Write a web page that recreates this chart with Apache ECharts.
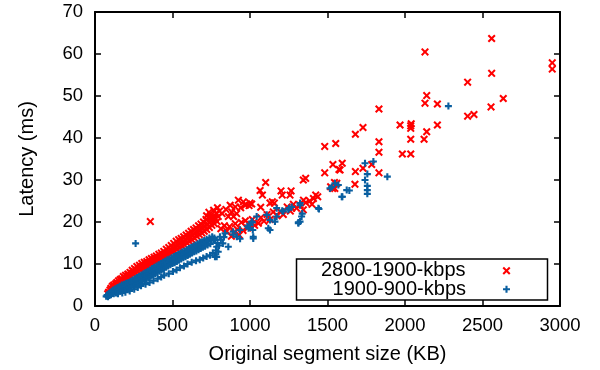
<!DOCTYPE html>
<html>
<head>
<meta charset="utf-8">
<script src="https://cdn.jsdelivr.net/npm/echarts@6/dist/echarts.min.js"></script>
<style>
html,body{margin:0;padding:0;background:#fff;}
#chart{width:600px;height:370px;}
</style>
</head>
<body>
<div id="chart"></div>
<script>
// ---- Data ----
var xTicks = [0, 500, 1000, 1500, 2000, 2500, 3000];
var yTicks = [0, 10, 20, 30, 40, 50, 60, 70];
var seriesNames = ['2800-1900-kbps', '1900-900-kbps'];

// 2800-1900-kbps : [segment size (KB), latency (ms)]
var redDense = [
[82,2.9],[88,3.3],[95,3.1],[97,3.8],[103,4.2],[108,3.6],[112,4.7],[118,4.1],[121,5.0],[127,4.5],[133,5.3],[138,4.8],[141,5.6],[147,5.1],[152,6.0],[158,5.4],[163,6.3],[166,5.7],[172,6.5],[177,6.0],[183,7.0],[186,6.2],[192,6.7],[197,7.3],[201,6.5],[206,7.1],[212,7.6],[215,6.9],[221,7.4],[226,8.0],[231,7.2],[236,7.8],[240,8.5],[246,7.6],[250,8.2],[255,8.9],[261,8.0],[266,8.6],[270,9.4],[276,8.3],[281,9.0],[287,9.7],[292,8.7],[297,9.3],[302,10.1],[308,9.0],[313,9.6],[318,10.4],[323,9.2],[328,9.9],[334,10.6],[339,9.5],[345,10.2],[349,11.0],[354,9.9],[359,10.5],[364,11.3],[370,10.2],[375,10.9],[381,11.6],[386,10.5],[392,11.2],[396,11.9],[402,10.8],[407,11.5],[412,12.3],[418,11.1],[423,11.8],[428,12.6],[433,11.4],[439,12.2],[444,13.0],[449,11.7],[455,12.5],[460,13.5],[465,12.0],[471,12.9],[476,13.9],[481,12.4],[487,13.3],[492,14.4],[497,12.8],[503,13.7],[508,14.9],[513,13.1],[519,14.1],[524,15.4],[529,13.5],[535,14.5],[540,15.8],[545,13.9],[551,14.9],[556,16.1],[561,14.3],[567,15.3],[572,16.5],[577,14.6],[583,15.7],[588,16.9],[593,15.0],[599,16.1],[604,17.3],[609,15.4],[615,16.5],[620,17.8],[625,15.8],[631,16.9],[636,18.2],[641,16.2],[647,17.3],[652,18.6],[657,16.6],[663,17.7],[668,19.1],[673,17.0],[679,18.1],[684,19.5],[689,17.4],[695,18.6],[700,20.0],[705,17.8],[711,19.0],[716,20.6],[721,18.2],[727,19.5],[732,21.1],[738,18.7],[743,20.0],[748,21.6],[754,19.2],[759,20.5],[764,21.0],[770,19.6],[776,20.9],[782,22.1],[788,20.1],[795,21.3],[803,22.6],
[720,21.5],[735,22.3],[748,21.0],[765,22.8],[775,20.7],[790,23.4],[820,22.0],[845,23.0],[860,21.3],[872,24.0],[882,22.4],[894,21.3],[905,23.6],[914,22.0],[925,25.2],[940,23.4],[957,24.8],[970,24.0],[994,23.9],[1000,24.5],[1011,24.3],
[812,18.4],[835,19.1],[850,17.8],[868,18.9],[880,16.6],[896,17.5],[905,19.6],[918,18.2],[930,16.9],[944,19.9],[955,18.0],[970,20.3],[985,18.6],[1000,19.4],[1015,20.6],[1030,19.2],[1054,19.7],[1070,21.0],[1090,20.2],[1110,21.8],[1130,20.6],[1150,22.4],[1175,21.5],[1194,22.5],[1215,21.8],[1240,23.6],[1260,22.6],[1280,24.2],[1300,23.3],[1323,24.0],[1345,25.2],[1360,24.6],[1385,25.0],[1400,24.2]
];
var redSparse = [
[357,20.1],[1065,27.5],[1080,26.4],[1101,29.4],[1069,23.5],[1129,24.5],[1144,24.8],[1157,24.5],[1200,27.4],[1208,26.4],[1258,26.4],[1265,27.4],[1269,23.3],[1344,22.9],[1344,30.0],[1359,30.4],[1409,25.6],[1424,26.4],[1437,26.0],[1482,31.7],[1482,38.0],[1535,33.7],[1553,38.7],[1574,32.5],[1595,34.0],[1545,29.4],[1560,29.2],[1520,28.4],[1533,28.0],[1547,28.0],[1581,32.4],[1677,29.0],[1680,32.0],[1680,40.9],[1729,32.8],[1729,42.5],[1785,33.7],[1832,31.7],[1832,36.6],[1832,39.1],[1832,46.9],[1968,43.1],[1983,36.2],[2037,36.2],[2037,39.7],[2037,42.3],[2037,42.9],[2040,43.4],[2123,39.7],[2140,41.5],[2209,43.1],[2129,48.3],[2140,50.1],[2209,48.1],[2129,60.5],[2404,53.3],[2404,45.2],[2445,45.6],[2555,47.4],[2559,55.4],[2559,63.7],[2634,49.4],[2950,57.9],[2950,56.4]
];

// 1900-900-kbps : [segment size (KB), latency (ms)]
var blueDense = [
[72,2.3],[78,2.6],[84,2.2],[88,2.9],[93,2.5],[98,3.2],[103,2.7],[107,3.5],[112,3.0],[117,3.8],[121,2.9],[126,3.4],[131,4.1],[135,3.1],[140,3.7],[145,4.4],[149,3.3],[154,4.0],[159,4.7],[163,3.5],[168,4.3],[173,5.0],[177,3.7],[182,4.5],[187,5.2],[191,3.9],[196,4.7],[201,5.4],[205,4.1],[210,5.0],[215,5.6],[219,4.3],[224,5.2],[229,5.9],[233,4.5],[238,5.5],[243,6.2],[248,4.8],[252,5.7],[257,6.5],[262,5.0],[266,6.0],[271,6.8],[276,5.3],[280,6.3],[285,7.1],[290,5.6],[294,6.6],[299,7.4],[304,5.9],[309,6.9],[313,7.7],[318,6.2],[323,7.2],[327,8.0],[332,6.5],[337,7.5],[341,8.3],[346,6.8],[351,7.8],[355,8.6],[360,7.1],[365,8.1],[369,8.9],[374,7.4],[379,8.4],[383,9.2],[388,7.7],[393,8.7],[397,9.5],[402,8.0],[407,9.0],[411,9.8],[416,8.3],[421,9.3],[425,10.1],[430,8.6],[435,9.6],[439,10.4],[444,8.9],[449,9.9],[453,10.7],[458,9.2],[463,10.2],[467,11.0],[472,9.5],[477,10.5],[481,11.2],[486,9.8],[491,10.8],[495,11.5],[500,10.1],[505,11.1],[509,11.8],[514,10.3],[519,11.3],[523,12.0],[528,10.6],[533,11.6],[537,12.3],[542,10.9],[547,11.9],[551,12.6],[556,11.2],[561,12.2],[565,12.9],[570,11.5],[575,12.4],[579,13.1],[584,11.7],[589,12.7],[593,13.4],[598,12.0],[603,13.0],[607,13.7],[612,12.3],[617,13.3],[621,14.0],[626,12.6],[631,13.5],[635,14.3],[640,12.9],[645,13.8],[649,14.5],[654,13.1],[659,14.1],[663,14.8],[668,13.4],[673,14.4],[677,15.1],[682,13.7],[687,14.6],[691,15.3],[696,14.0],[701,14.9],[705,15.6],[710,14.2],[715,15.2],[720,15.9],[726,14.5],[732,15.5],[738,16.2],[744,14.8],[750,15.8],[756,16.5],[763,15.7],[770,16.2],
[148,2.9],[196,3.3],[253,4.0],[297,4.8],[352,5.6],[404,6.5],[446,7.3],[503,8.2],[548,9.1],[597,10.0],[652,10.8],[698,11.4],[742,12.1],[176,3.1],[224,3.6],[276,4.4],[326,5.2],[377,6.0],[427,6.9],[476,7.7],[526,8.6],[574,9.5],[624,10.4],[676,11.0],[720,11.8],
[760,12.6],[780,13.2],[790,15.0],[795,12.9],[800,14.4],[812,15.8],[825,14.9],[832,16.4]
];
var blueSparse = [
[262,14.9],[774,11.7],[785,11.7],[774,15.7],[806,16.5],[839,17.3],[892,17.7],[935,18.1],[1000,19.3],[1011,20.1],[1021,16.1],[1043,21.3],[1108,21.7],[1129,20.5],[1118,18.5],[1172,23.3],[1215,22.5],[1247,22.9],[1269,23.6],[1323,24.5],[1312,19.7],[1323,20.1],[1441,23.3],[1516,28.0],[1548,29.2],[1570,28.8],[1592,26.0],[1624,27.6],[1641,27.5],[1596,26.0],[1527,28.3],[1742,34.0],[1796,34.4],[1757,31.4],[1742,30.0],[1757,28.6],[1757,27.6],[1757,26.7],[1886,30.8],[2280,47.6],[1445,23.1],[1312,19.9],[1323,24.0],[1337,22.0],[1333,21.3],[1252,23.3],[1208,22.7],[1172,21.3],[1161,20.1],[1129,18.1],[1015,19.9],[1018,18.1],[1021,16.5],[983,19.0],[991,18.5],[893,17.0],[936,16.0],[915,16.5],[785,14.1],[860,14.1]
];

var redData = redDense.concat(redSparse);
var blueData = blueDense.concat(blueSparse);

// ---- Styling ----
var RED = '#ff0000';
var BLUE = '#0a5fa0';
var FONT = '"Liberation Sans", Arial, Helvetica, sans-serif';
var CROSS = 'path://M1.8,0L5,3.2L8.2,0L10,1.8L6.8,5L10,8.2L8.2,10L5,6.8L1.8,10L0,8.2L3.2,5L0,1.8Z';
var PLUS = 'path://M3.5,0H6.5V3.5H10V6.5H6.5V10H3.5V6.5H0V3.5H3.5Z';

var chart = echarts.init(document.getElementById('chart'), null, {renderer: 'canvas'});

function plain(v) { return String(v); }

function xAxisCfg(pos, labels) {
  return {
    type: 'value', position: pos, min: xTicks[0], max: xTicks[xTicks.length - 1],
    interval: xTicks[1] - xTicks[0],
    axisLine: {show: true, onZero: false, lineStyle: {color: '#000', width: 2}},
    axisTick: {show: true, inside: true, length: 6, lineStyle: {color: '#000', width: 1.5}},
    axisLabel: {show: labels, color: '#000', fontSize: 18.5, fontFamily: FONT, margin: 10, formatter: plain},
    splitLine: {show: false},
    name: labels ? 'Original segment size (KB)' : '',
    nameLocation: 'middle', nameGap: 38,
    nameTextStyle: {color: '#000', fontSize: 20, fontFamily: FONT}
  };
}
function yAxisCfg(pos, labels) {
  return {
    type: 'value', position: pos, min: yTicks[0], max: yTicks[yTicks.length - 1],
    interval: yTicks[1] - yTicks[0],
    axisLine: {show: true, onZero: false, lineStyle: {color: '#000', width: 2}},
    axisTick: {show: true, inside: true, length: 6, lineStyle: {color: '#000', width: 1.5}},
    axisLabel: {show: labels, color: '#000', fontSize: 18.5, fontFamily: FONT, margin: 12, formatter: plain},
    splitLine: {show: false},
    name: labels ? 'Latency (ms)' : '',
    nameLocation: 'middle', nameGap: 58, nameRotate: 90,
    nameTextStyle: {color: '#000', fontSize: 20, fontFamily: FONT}
  };
}

var legendText = {color: '#000', fontSize: 20, fontFamily: FONT, padding: [0, 32, 0, 0]};

chart.setOption({
  animation: false,
  backgroundColor: '#fff',
  grid: {left: 95, right: 40, top: 12, bottom: 64, containLabel: false},
  xAxis: [xAxisCfg('bottom', true), xAxisCfg('top', false)],
  yAxis: [yAxisCfg('left', true), yAxisCfg('right', false)],
  legend: [
    {data: [{name: seriesNames[0], icon: CROSS}], orient: 'vertical', align: 'right', right: 89.5, top: 260.7, padding: 0,
     itemWidth: 8, itemHeight: 8, textStyle: legendText, selectedMode: false},
    {data: [{name: seriesNames[1], icon: PLUS}], orient: 'vertical', align: 'right', right: 90, top: 279.3, padding: 0,
     itemWidth: 7, itemHeight: 7, textStyle: legendText, selectedMode: false}
  ],
  graphic: [{
    type: 'rect', z: 100, silent: true,
    shape: {x: 296.5, y: 259, width: 251, height: 41},
    style: {fill: 'none', stroke: '#000', lineWidth: 1.5}
  }],
  series: [
    {name: seriesNames[0], type: 'scatter', xAxisIndex: 0, yAxisIndex: 0, data: redData,
     symbol: CROSS, symbolSize: 8, itemStyle: {color: RED, opacity: 1}, z: 2},
    {name: seriesNames[1], type: 'scatter', xAxisIndex: 0, yAxisIndex: 0, data: blueData,
     symbol: PLUS, symbolSize: 7, itemStyle: {color: BLUE, opacity: 1}, z: 3}
  ]
});
</script>
</body>
</html>
